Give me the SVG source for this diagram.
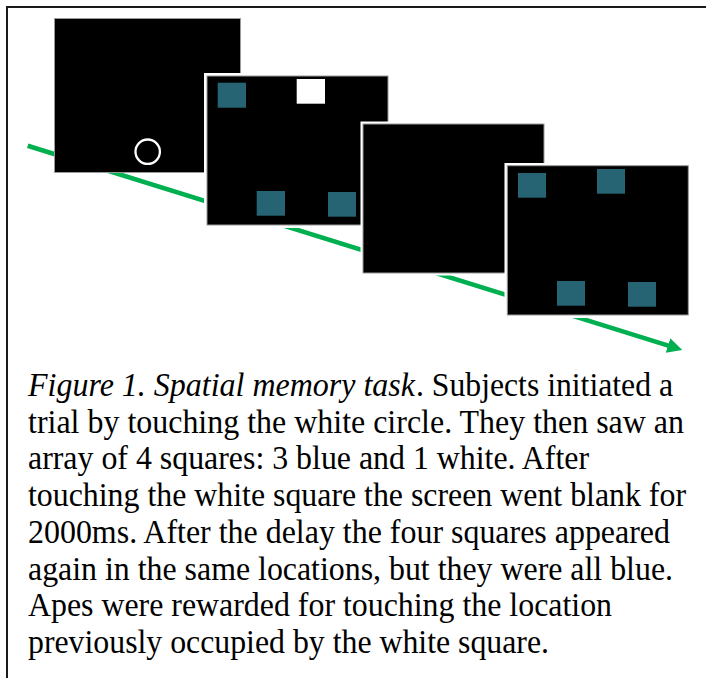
<svg xmlns="http://www.w3.org/2000/svg" width="706" height="678" viewBox="0 0 706 678">
  <style>
    .frame { fill: none; stroke: #1a1a1a; stroke-width: 2; }
    .halo { fill: #ffffff; }
    .screen { fill: #000000; stroke: #9a9a9a; stroke-width: 1; }
    .blue { fill: #266473; }
    .white { fill: #ffffff; }
    .timeline { stroke: #00b050; stroke-width: 4.6; fill: none; }
    .it { font-style: italic; }
  </style>
  <defs>
    <marker id="arrowhead" markerUnits="userSpaceOnUse" markerWidth="16" markerHeight="16" refX="2" refY="7.5" orient="auto">
      <path d="M0,0 L15,7.5 L0,15 z" fill="#00b050"/>
    </marker>
  </defs>

  <rect width="706" height="678" fill="#ffffff"/>
  <!-- page frame: only its top and left edges fall inside the canvas -->
  <rect class="frame" x="7" y="7" width="720" height="700"/>

  <!-- time axis running under the screens -->
  <g id="connectors">
    <line class="timeline" x1="27.7" y1="145.7" x2="669.9" y2="346.1" marker-end="url(#arrowhead)"/>
  </g>

  <!-- screen 1: start screen with the white circle -->
  <g id="screen-start">
    <rect class="screen" x="54.5" y="18.5" width="186" height="154"/>
    <circle cx="147.7" cy="151.7" r="12.2" fill="none" stroke="#ffffff" stroke-width="2.3"/>
  </g>

  <!-- screen 2: sample array, three blue squares and one white -->
  <g id="screen-sample">
    <rect class="halo" x="204" y="73" width="187" height="155"/>
    <rect class="screen" x="207" y="76" width="181" height="149"/>
    <rect class="blue" x="217.7" y="82.7" width="28.3" height="25"/>
    <rect class="white" x="296.7" y="79" width="28.3" height="24.7"/>
    <rect class="blue" x="256.7" y="191" width="28.3" height="24.7"/>
    <rect class="blue" x="328" y="192" width="28" height="24.7"/>
  </g>

  <!-- screen 3: blank delay -->
  <g id="screen-delay">
    <rect class="halo" x="360.5" y="121.5" width="186" height="154"/>
    <rect class="screen" x="363" y="124" width="181" height="149"/>
  </g>

  <!-- screen 4: test array, all squares blue -->
  <g id="screen-test">
    <rect class="halo" x="504.5" y="163" width="186" height="155"/>
    <rect class="screen" x="507.3" y="165.7" width="181" height="149.3"/>
    <rect class="blue" x="518" y="173" width="28" height="24.7"/>
    <rect class="blue" x="597" y="169" width="28" height="24.7"/>
    <rect class="blue" x="557" y="281" width="28" height="24.7"/>
    <rect class="blue" x="628" y="282" width="28" height="24.7"/>
  </g>

  <!-- caption -->
  <g id="caption" font-family="'Liberation Serif', 'Times New Roman', 'DejaVu Serif', serif" font-size="33" fill="#000000">
    <text class="it" x="28" y="396" textLength="387" lengthAdjust="spacingAndGlyphs">Figure 1. Spatial memory task</text>
    <text x="416" y="396" textLength="257" lengthAdjust="spacingAndGlyphs">. Subjects initiated a</text>
    <text x="28" y="432.7" textLength="656" lengthAdjust="spacingAndGlyphs">trial by touching the white circle. They then saw an</text>
    <text x="28" y="469.4" textLength="561" lengthAdjust="spacingAndGlyphs">array of 4 squares: 3 blue and 1 white. After</text>
    <text x="28" y="506.1" textLength="658" lengthAdjust="spacingAndGlyphs">touching the white square the screen went blank for</text>
    <text x="28" y="542.8" textLength="642" lengthAdjust="spacingAndGlyphs">2000ms. After the delay the four squares appeared</text>
    <text x="28" y="579.5" textLength="645" lengthAdjust="spacingAndGlyphs">again in the same locations, but they were all blue.</text>
    <text x="28" y="616.2" textLength="584" lengthAdjust="spacingAndGlyphs">Apes were rewarded for touching the location</text>
    <text x="28" y="652.9" textLength="521" lengthAdjust="spacingAndGlyphs">previously occupied by the white square.</text>
  </g>
</svg>
